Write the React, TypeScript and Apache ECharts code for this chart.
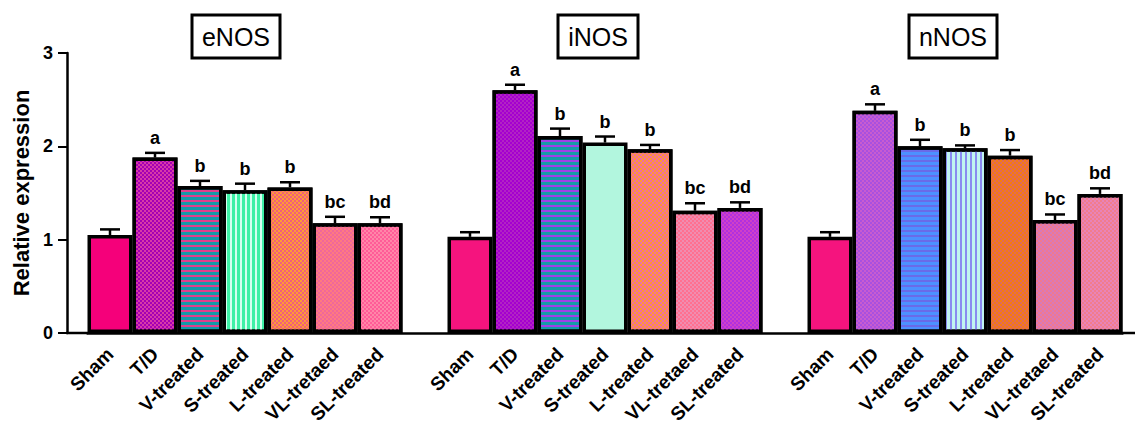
import React, { useEffect, useRef } from "react";
import * as echarts from "echarts";

const genes = ["eNOS", "iNOS", "nNOS"];
const groups = ["Sham", "T/D", "V-treated", "S-treated", "L-treated", "VL-tretaed", "SL-treated"];
const letters = ["", "a", "b", "b", "b", "bc", "bd"];

const eNOS = [1.05, 1.88, 1.575, 1.53, 1.56, 1.175, 1.175];
const eNOSErr = [0.06, 0.05, 0.055, 0.07, 0.055, 0.07, 0.065];
const iNOS = [1.03, 2.6, 2.11, 2.04, 1.97, 1.31, 1.34];
const iNOSErr = [0.05, 0.06, 0.08, 0.065, 0.045, 0.08, 0.06];
const nNOS = [1.03, 2.38, 2.0, 1.98, 1.9, 1.21, 1.49];
const nNOSErr = [0.05, 0.07, 0.07, 0.03, 0.06, 0.06, 0.06];

const yTicks = [0, 1, 2, 3];

const FONT = "'Liberation Sans', Arial, sans-serif";

const dots = (c: string) => ({
  symbol: "rect",
  symbolSize: 1,
  dashArrayX: [[1.8, 1.8], [0, 1.8, 1.8, 0]],
  dashArrayY: [1.8, 0],
  color: c,
});
const hStripes = (c: string) => ({
  symbol: "rect",
  symbolSize: 1,
  dashArrayX: [1, 0],
  dashArrayY: [2, 2.2],
  color: c,
});
const vStripes = (c: string) => ({
  symbol: "rect",
  symbolSize: 1,
  dashArrayX: [2, 2.2],
  dashArrayY: [1, 0],
  color: c,
});

const styles: any[][] = [
  [
    { color: "#f5007a" },
    { color: "#a400b4", decal: dots("#d83aa8") },
    { color: "#1798a8", decal: hStripes("#e0408c") },
    { color: "#3ef0a6", decal: vStripes("#d6fff0") },
    { color: "#ff9838", decal: dots("#f0607a") },
    { color: "#ff7a80", decal: dots("#f0689a") },
    { color: "#ff5c98", decal: dots("#ff86a8") },
  ],
  [
    { color: "#f5147e" },
    { color: "#a400d0", decal: dots("#b224c4") },
    { color: "#179aa8", decal: hStripes("#a040e8") },
    { color: "#b2f6de" },
    { color: "#ff9438", decal: dots("#f070a0") },
    { color: "#ff7090", decal: dots("#f08cb0") },
    { color: "#b030e0", decal: dots("#d040c8") },
  ],
  [
    { color: "#f5147e" },
    { color: "#a850e0", decal: dots("#c85cd0") },
    { color: "#4c90ff", decal: hStripes("#6a6ae8") },
    { color: "#c0f4f0", decal: vStripes("#8a8af0") },
    { color: "#f57a10", decal: dots("#e06a58") },
    { color: "#f07890", decal: dots("#d87ab8") },
    { color: "#f27c8c", decal: dots("#e884b8") },
  ],
];

const titleBoxes = [
  { x: 192, w: 88 },
  { x: 558, w: 80 },
  { x: 909, w: 88 },
];

export default function App() {
  const ref = useRef<HTMLDivElement>(null);

  useEffect(() => {
    if (!ref.current) return;
    const chart = echarts.init(ref.current, null, { renderer: "svg" });

    const values = [eNOS, iNOS, nNOS];
    const errs = [eNOSErr, iNOSErr, nNOSErr];

    const cats: string[] = [];
    const barData: any[] = [];
    const errData: any[] = [];
    const errLetters: string[] = [];
    genes.forEach((g, gi) => {
      if (gi > 0) {
        cats.push("");
        barData.push("-");
      }
      groups.forEach((name, i) => {
        const idx = cats.length;
        cats.push(name);
        barData.push({
          value: values[gi][i],
          itemStyle: {
            color: styles[gi][i].color,
            decal: styles[gi][i].decal,
            borderColor: "#000",
            borderWidth: 3.5,
          },
        });
        errData.push([idx, values[gi][i], errs[gi][i]]);
        errLetters.push(letters[i]);
      });
    });

    const graphics: any[] = [];
    genes.forEach((g, gi) => {
      const b = titleBoxes[gi];
      graphics.push({
        type: "rect",
        shape: { x: b.x, y: 15, width: b.w, height: 43 },
        style: { fill: "#fff", stroke: "#000", lineWidth: 3 },
      });
      graphics.push({
        type: "text",
        x: b.x + b.w / 2,
        y: 37,
        style: {
          text: g,
          font: `25px ${FONT}`,
          fill: "#000",
          align: "center",
          verticalAlign: "middle",
        },
      });
    });
    // extend baseline to the offset y axis and to the right edge
    graphics.push({
      type: "line",
      shape: { x1: 66, y1: 333, x2: 88, y2: 333 },
      style: { stroke: "#000", lineWidth: 2.5 },
    });
    graphics.push({
      type: "line",
      shape: { x1: 1122, y1: 333, x2: 1135, y2: 333 },
      style: { stroke: "#000", lineWidth: 2.5 },
    });

    chart.setOption({
      animation: false,
      backgroundColor: "#fff",
      grid: { left: 87.5, right: 12.5, top: 53, bottom: 97, containLabel: false },
      xAxis: {
        type: "category",
        data: cats,
        boundaryGap: true,
        axisLine: { lineStyle: { color: "#000", width: 2.5 } },
        axisTick: {
          alignWithLabel: true,
          length: 8,
          lineStyle: { color: "#000", width: 2 },
          interval: (i: number, v: string) => v !== "",
        },
        axisLabel: {
          interval: 0,
          rotate: 45,
          margin: 18,
          color: "#000",
          fontWeight: "bold",
          fontSize: 19,
          fontFamily: FONT,
        },
      },
      yAxis: {
        type: "value",
        min: yTicks[0],
        max: yTicks[yTicks.length - 1],
        interval: 1,
        offset: 20.5,
        name: "Relative expression",
        nameLocation: "middle",
        nameGap: 35,
        nameTextStyle: { color: "#000", fontWeight: "bold", fontSize: 22, fontFamily: FONT },
        splitLine: { show: false },
        axisLine: { show: true, lineStyle: { color: "#000", width: 2.5 } },
        axisTick: { show: true, length: 9, lineStyle: { color: "#000", width: 2 } },
        axisLabel: {
          margin: 14,
          color: "#000",
          fontWeight: "bold",
          fontSize: 18,
          fontFamily: FONT,
        },
      },
      graphic: graphics,
      series: [
        {
          type: "bar",
          data: barData,
          barWidth: "100%",
          barGap: "0%",
          z: 2,
        },
        {
          type: "custom",
          z: 3,
          data: errData,
          encode: { x: 0, y: 1 },
          renderItem: (params: any, api: any) => {
            const x = api.value(0);
            const v = api.value(1);
            const e = api.value(2);
            const base = api.coord([x, v]);
            const top = api.coord([x, v + e]);
            const half = 10;
            return {
              type: "group",
              children: [
                {
                  type: "line",
                  shape: { x1: base[0], y1: base[1], x2: top[0], y2: top[1] },
                  style: { stroke: "#000", lineWidth: 2.5 },
                },
                {
                  type: "line",
                  shape: { x1: top[0] - half, y1: top[1], x2: top[0] + half, y2: top[1] },
                  style: { stroke: "#000", lineWidth: 2.5 },
                },
                {
                  type: "text",
                  x: top[0],
                  y: top[1] - 6,
                  style: {
                    text: errLetters[params.dataIndex],
                    fill: "#000",
                    font: `bold 18px ${FONT}`,
                    align: "center",
                    verticalAlign: "bottom",
                  },
                },
              ],
            };
          },
        },
      ],
    });

    return () => chart.dispose();
  }, []);

  return (
    <div
      ref={ref}
      style={{ position: "fixed", left: 0, top: 0, width: 1135, height: 430 }}
    />
  );
}
